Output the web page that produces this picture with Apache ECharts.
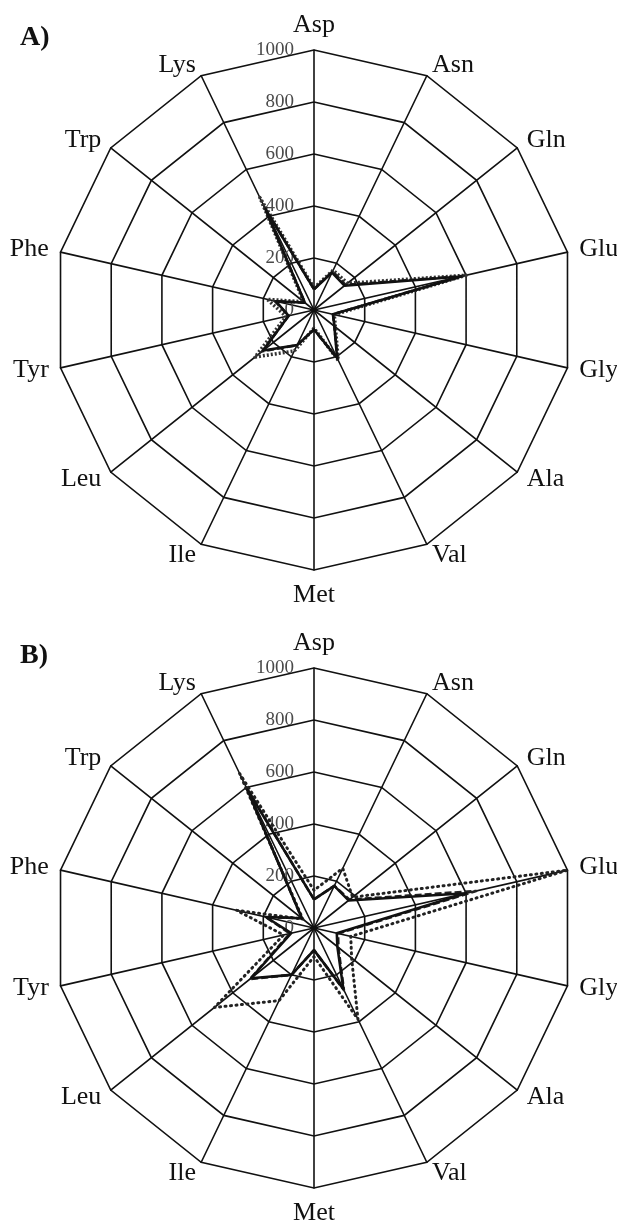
<!DOCTYPE html>
<html>
<head>
<meta charset="utf-8">
<script src="https://cdn.jsdelivr.net/npm/echarts@6/dist/echarts.min.js"></script>
<style>
  html, body { margin: 0; padding: 0; background: #fff; }
  #chart { width: 617px; height: 1225px; }
</style>
</head>
<body>
<div id="chart"></div>
<script>
// Amino acids, listed clockwise from the top of each web
const aminoAcids = ['Asp', 'Asn', 'Gln', 'Glu', 'Gly', 'Ala', 'Val', 'Met', 'Ile', 'Leu', 'Tyr', 'Phe', 'Trp', 'Lys'];
const axisMax = 1000;
const tickStep = 200;

// Panel A
const aSolid  = [80, 160, 150, 580, 75, 100, 205, 75, 150, 250, 100, 150, 45, 430];
const aDashed = [80, 165, 155, 590, 75, 100, 210, 75, 150, 255, 100, 155, 45, 440];
const aDotted = [85, 170, 165, 600, 80, 105, 215, 70, 175, 290, 110, 185, 50, 480];

// Panel B
const bSolid  = [110, 180, 170, 600, 90, 115, 260, 85, 200, 310, 90, 190, 60, 590];
const bDashed = [110, 180, 175, 640, 95, 120, 265, 85, 200, 315, 95, 190, 60, 600];
const bDotted = [145, 255, 190, 1000, 145, 185, 390, 110, 310, 490, 120, 305, 55, 660];

// ECharts lays radar indicators out counter-clockwise, so keep the first
// one at the top and reverse the rest to run clockwise.
const order = [0].concat(aminoAcids.map((_, i) => i).slice(1).reverse());
const reorder = arr => order.map(i => arr[i]);

const serif = 'Liberation Serif';

function makeRadar(centerY) {
  return {
    center: [314, centerY],
    radius: 260,
    startAngle: 90,
    shape: 'polygon',
    splitNumber: axisMax / tickStep,
    nameGap: 12,
    axisName: { color: '#111', fontFamily: serif, fontSize: 26 },
    indicator: reorder(aminoAcids).map((name, k) => ({
      name: name,
      min: 0,
      max: axisMax,
      axisLabel: { show: k === 0 }
    })),
    axisLine: { lineStyle: { color: '#111', width: 1.6 } },
    splitLine: { lineStyle: { color: '#111', width: 1.6 } },
    splitArea: { show: false },
    axisTick: { show: false },
    axisLabel: {
      show: false,
      color: '#4a4a4a',
      fontFamily: serif,
      fontSize: 19,
      margin: 20,
      formatter: v => String(v)
    }
  };
}

const styles = {
  solid:   { color: '#111', width: 2.6, type: 'solid' },
  dashed:  { color: '#222', width: 2.6, type: [7, 3] },
  dottedA: { color: '#333', width: 3.5, type: [2, 2] },
  dottedB: { color: '#222', width: 3, type: [1, 4.5], cap: 'round' }
};

function series(radarIndex, values, style, name) {
  return {
    type: 'radar',
    radarIndex: radarIndex,
    symbol: 'none',
    silent: true,
    data: [{ name: name, value: reorder(values) }],
    lineStyle: style,
    areaStyle: { opacity: 0 },
    z: 3
  };
}

const chart = echarts.init(document.getElementById('chart'), null, { renderer: 'canvas' });
chart.setOption({
  animation: false,
  backgroundColor: '#fff',
  title: [
    { text: 'A)', left: 15, top: 19, textStyle: { fontFamily: serif, fontWeight: 'bold', fontSize: 28, color: '#111' } },
    { text: 'B)', left: 15, top: 637, textStyle: { fontFamily: serif, fontWeight: 'bold', fontSize: 28, color: '#111' } }
  ],
  radar: [makeRadar(310), makeRadar(928)],
  series: [
    series(0, aDotted, styles.dottedA, 'A dotted'),
    series(0, aDashed, styles.dashed, 'A dashed'),
    series(0, aSolid, styles.solid, 'A solid'),
    series(1, bDotted, styles.dottedB, 'B dotted'),
    series(1, bDashed, styles.dashed, 'B dashed'),
    series(1, bSolid, styles.solid, 'B solid')
  ]
});
</script>
</body>
</html>
